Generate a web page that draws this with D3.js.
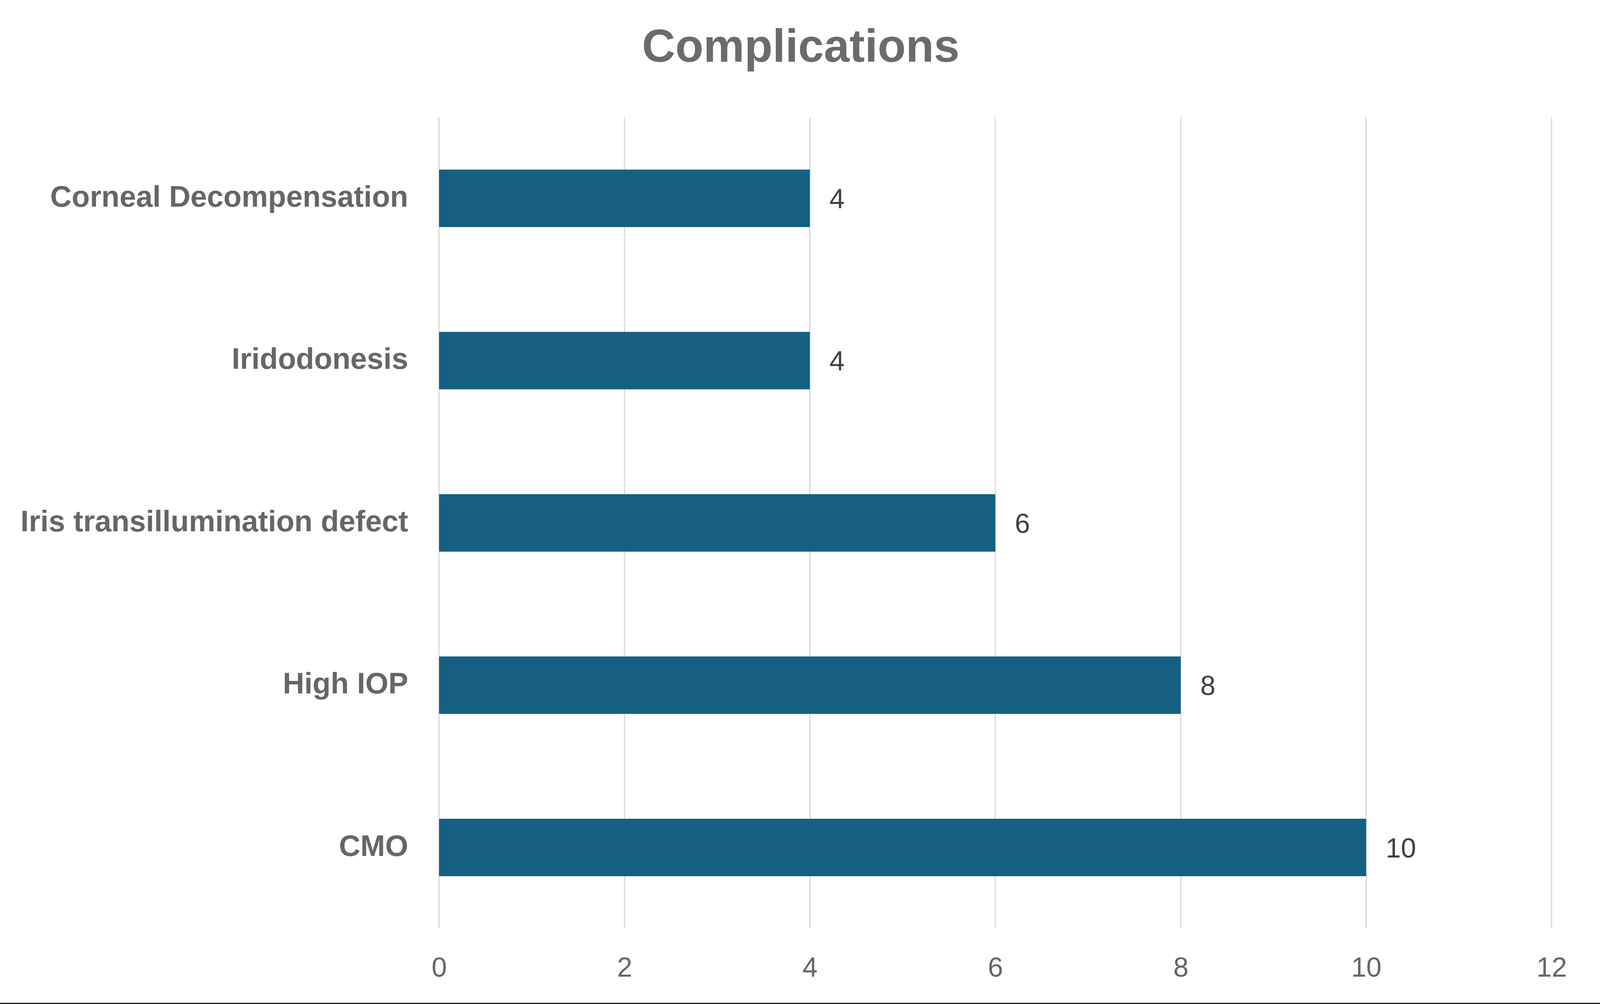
<!DOCTYPE html>
<html>
<head>
<meta charset="utf-8">
<script src="https://cdn.jsdelivr.net/npm/d3@7"></script>
<style>
  html, body { margin: 0; padding: 0; background: #fff; }
  svg { display: block; }
</style>
</head>
<body>
<div id="chart"></div>
<script>
// chart data
const categories = ["Corneal Decompensation", "Iridodonesis", "Iris transillumination defect", "High IOP", "CMO"];
const values = [4, 4, 6, 8, 10];
const xTicks = [0, 2, 4, 6, 8, 10, 12];
const title = "Complications";

const W = 4100, H = 2570;
const margin = {top: 300, right: 128, bottom: 193, left: 1124};
const width = W - margin.left - margin.right;
const height = H - margin.top - margin.bottom;

const font = "'Liberation Sans', Arial, sans-serif";

const svg = d3.select("#chart")
    .append("svg")
    .attr("width", W)
    .attr("height", H);

svg.append("rect")
    .attr("width", W)
    .attr("height", H)
    .attr("fill", "#fff");

// Title
svg.append("text")
    .attr("x", W / 2)
    .attr("y", 158)
    .attr("text-anchor", "middle")
    .attr("font-family", font)
    .attr("font-weight", "bold")
    .attr("font-size", 118)
    .attr("fill", "#6b6b6b")
    .text(title);

const g = svg.append("g")
    .attr("transform", `translate(${margin.left},${margin.top})`);

// Scales
const x = d3.scaleLinear().domain([0, 12]).range([0, width]);
const y = d3.scaleBand().domain(categories).range([0, height]).padding(0);
const barH = y.bandwidth() * 0.354;

// Vertical gridlines
g.append("g")
    .selectAll("line")
    .data(xTicks)
    .join("line")
    .attr("x1", d => x(d))
    .attr("x2", d => x(d))
    .attr("y1", 0)
    .attr("y2", height)
    .attr("stroke", "#d9d9d9")
    .attr("stroke-width", 3);

// x axis labels (no domain line, no ticks)
const xAxis = d3.axisBottom(x).tickValues(xTicks).tickSize(0).tickPadding(0);
const xg = g.append("g")
    .attr("transform", `translate(0,${height})`)
    .call(xAxis);
xg.select(".domain").remove();
xg.selectAll("text")
    .attr("y", 123)
    .attr("dy", null)
    .attr("font-family", font)
    .attr("font-size", 70)
    .attr("fill", "#666666");

// y axis labels
const yAxis = d3.axisLeft(y).tickSize(0).tickPadding(79);
const yg = g.append("g").call(yAxis);
yg.select(".domain").remove();
yg.selectAll("text")
    .attr("dy", "0.28em")
    .attr("font-family", font)
    .attr("font-weight", "bold")
    .attr("font-size", 76)
    .attr("fill", "#666666");

// Bars
g.selectAll(".bar")
    .data(values)
    .join("rect")
    .attr("class", "bar")
    .attr("x", x(0))
    .attr("y", (d, i) => y(categories[i]) + (y.bandwidth() - barH) / 2)
    .attr("width", d => x(d) - x(0))
    .attr("height", barH)
    .attr("fill", "#156082");

// Value labels
g.selectAll(".val")
    .data(values)
    .join("text")
    .attr("class", "val")
    .attr("x", d => x(d) + 50)
    .attr("y", (d, i) => y(categories[i]) + y.bandwidth() / 2)
    .attr("dy", "0.36em")
    .attr("font-family", font)
    .attr("font-size", 70)
    .attr("fill", "#404040")
    .text(d => d);

// dark frame edge on the right and bottom
svg.append("rect")
    .attr("x", W - 3).attr("y", 0)
    .attr("width", 3).attr("height", H)
    .attr("fill", "#1a1a1a");
svg.append("rect")
    .attr("x", 0).attr("y", H - 3)
    .attr("width", W).attr("height", 3)
    .attr("fill", "#1a1a1a");
</script>
</body>
</html>
